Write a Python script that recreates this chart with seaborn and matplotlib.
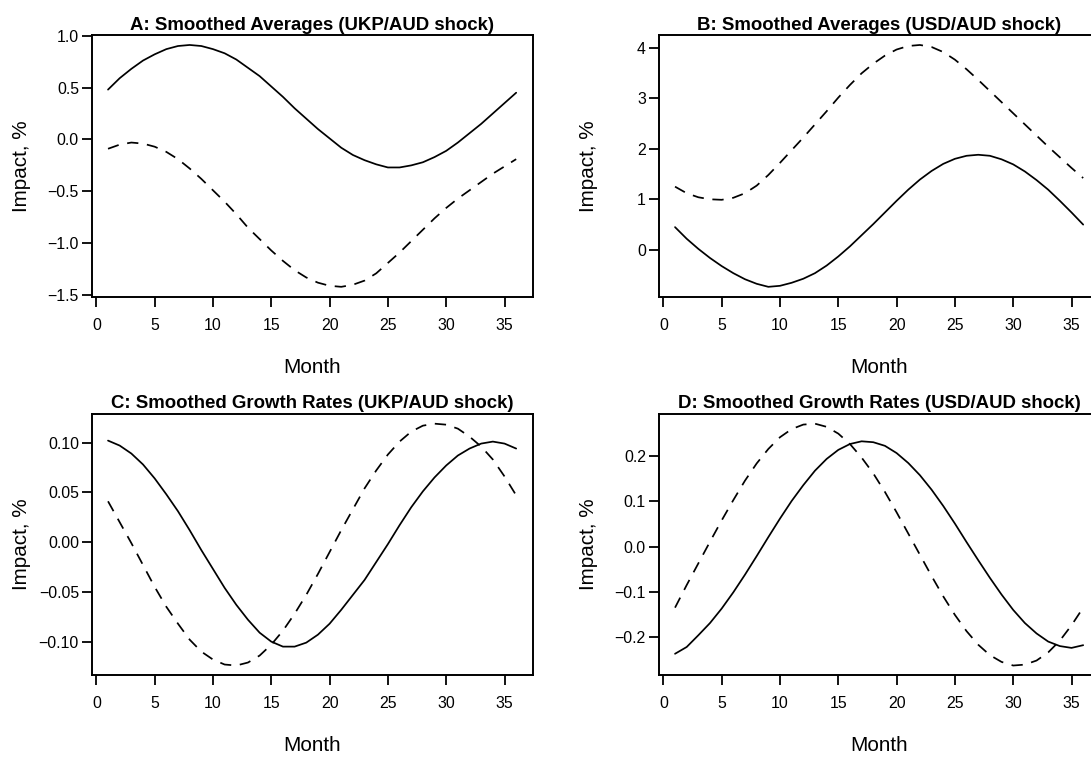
import numpy as np
import pandas as pd
import matplotlib
matplotlib.use("Agg")
import matplotlib.pyplot as plt
from matplotlib.ticker import FixedLocator, FuncFormatter
import seaborn as sns

months = list(range(1, 37))

a_solid = [0.48, 0.59, 0.68, 0.76, 0.82, 0.87, 0.90, 0.91, 0.90, 0.87,
           0.83, 0.77, 0.69, 0.61, 0.51, 0.41, 0.30, 0.20, 0.10, 0.01,
           -0.08, -0.15, -0.20, -0.24, -0.27, -0.27, -0.25, -0.22, -0.17, -0.11,
           -0.03, 0.06, 0.15, 0.25, 0.35, 0.45]
a_dashed = [-0.09, -0.05, -0.03, -0.04, -0.07, -0.12, -0.19, -0.28, -0.38, -0.49,
            -0.60, -0.72, -0.85, -0.96, -1.07, -1.17, -1.26, -1.33, -1.38, -1.41,
            -1.42, -1.40, -1.36, -1.29, -1.19, -1.09, -0.98, -0.87, -0.76, -0.66,
            -0.57, -0.49, -0.41, -0.33, -0.26, -0.19]

b_solid = [0.45, 0.22, 0.02, -0.16, -0.32, -0.46, -0.58, -0.67, -0.73, -0.71,
           -0.65, -0.57, -0.46, -0.31, -0.13, 0.07, 0.29, 0.51, 0.74, 0.97,
           1.19, 1.39, 1.56, 1.70, 1.80, 1.86, 1.88, 1.86, 1.79, 1.69,
           1.55, 1.38, 1.19, 0.97, 0.74, 0.50]
b_dashed = [1.25, 1.12, 1.04, 1.00, 0.99, 1.03, 1.12, 1.27, 1.48, 1.72,
            1.97, 2.22, 2.48, 2.74, 3.01, 3.26, 3.49, 3.68, 3.84, 3.96,
            4.03, 4.05, 4.01, 3.91, 3.76, 3.57, 3.36, 3.14, 2.92, 2.70,
            2.48, 2.26, 2.04, 1.83, 1.62, 1.42]

c_solid = [0.102, 0.097, 0.089, 0.078, 0.064, 0.048, 0.031, 0.012, -0.008, -0.027,
           -0.046, -0.063, -0.078, -0.091, -0.100, -0.105, -0.105, -0.101, -0.093, -0.082,
           -0.068, -0.053, -0.038, -0.020, -0.002, 0.017, 0.035, 0.051, 0.065, 0.077,
           0.087, 0.094, 0.099, 0.101, 0.099, 0.094]
c_dashed = [0.041, 0.020, -0.001, -0.023, -0.045, -0.065, -0.082, -0.098, -0.110, -0.118,
            -0.123, -0.124, -0.121, -0.114, -0.103, -0.089, -0.072, -0.053, -0.032, -0.010,
            0.012, 0.033, 0.054, 0.072, 0.088, 0.101, 0.111, 0.117, 0.119, 0.118,
            0.114, 0.106, 0.096, 0.083, 0.066, 0.047]

d_solid = [-0.237, -0.222, -0.196, -0.169, -0.137, -0.101, -0.062, -0.021, 0.021, 0.062,
           0.101, 0.136, 0.168, 0.194, 0.214, 0.227, 0.233, 0.231, 0.223, 0.207,
           0.185, 0.158, 0.126, 0.090, 0.051, 0.010, -0.030, -0.069, -0.106, -0.140,
           -0.169, -0.192, -0.210, -0.220, -0.224, -0.218]
d_dashed = [-0.135, -0.085, -0.037, 0.011, 0.058, 0.103, 0.146, 0.184, 0.216, 0.242,
            0.260, 0.270, 0.272, 0.265, 0.250, 0.227, 0.197, 0.162, 0.121, 0.076,
            0.029, -0.018, -0.065, -0.110, -0.151, -0.187, -0.217, -0.240, -0.255, -0.263,
            -0.261, -0.252, -0.234, -0.208, -0.174, -0.135]

titles = ["A: Smoothed Averages (UKP/AUD shock)",
          "B: Smoothed Averages (USD/AUD shock)",
          "C: Smoothed Growth Rates (UKP/AUD shock)",
          "D: Smoothed Growth Rates (USD/AUD shock)"]
x_ticks = [0, 5, 10, 15, 20, 25, 30, 35]
y_ticks_a = [-1.5, -1.0, -0.5, 0.0, 0.5, 1.0]
y_ticks_b = [0, 1, 2, 3, 4]
y_ticks_c = [-0.10, -0.05, 0.00, 0.05, 0.10]
y_ticks_d = [-0.2, -0.1, 0.0, 0.1, 0.2]
x_label = "Month"
y_label = "Impact, %"

sns.set_theme(style="ticks")
plt.rcParams["font.family"] = ["Liberation Sans", "DejaVu Sans"]
plt.rcParams["text.color"] = "black"
plt.rcParams["axes.labelcolor"] = "black"
plt.rcParams["xtick.color"] = "black"
plt.rcParams["ytick.color"] = "black"

W, H = 1091, 758
fig = plt.figure(figsize=(W / 100, H / 100), dpi=100)
fig.patch.set_facecolor("white")

box_w = 440.8
box_h = 261.2
lefts = [91.7, 658.7]
tops = [35.3, 414.0]

panels = [
    (a_solid, a_dashed, y_ticks_a, "{:.1f}"),
    (b_solid, b_dashed, y_ticks_b, "{:.0f}"),
    (c_solid, c_dashed, y_ticks_c, "{:.2f}"),
    (d_solid, d_dashed, y_ticks_d, "{:.1f}"),
]

lw_curve = 1.25
dash = (0, (6.5, 5.0))


def make_fmt(f):
    def _f(v, pos):
        s = f.format(v)
        if s.startswith("-"):
            s = "\u2212" + s[1:]
        return s
    return FuncFormatter(_f)


for i, (solid, dashed, yt, fmt) in enumerate(panels):
    row, col = divmod(i, 2)
    l = lefts[col]
    t = tops[row]
    ax = fig.add_axes([l / W, 1 - (t + box_h) / H, box_w / W, box_h / H])
    ax.set_facecolor("white")
    df = pd.DataFrame({"month": months, "solid": solid, "dashed": dashed})
    sns.lineplot(data=df, x="month", y="solid", ax=ax, color="black",
                 linewidth=lw_curve, linestyle="-")
    sns.lineplot(data=df, x="month", y="dashed", ax=ax, color="black",
                 linewidth=lw_curve, linestyle=dash)
    allv = np.array(solid + dashed)
    lo, hi = allv.min(), allv.max()
    pad = 0.04 * (hi - lo)
    ax.set_ylim(lo - pad, hi + pad)
    xpad = 0.04 * (max(months) - min(months))
    ax.set_xlim(min(months) - xpad, max(months) + xpad)

    ax.xaxis.set_major_locator(FixedLocator(x_ticks))
    ax.yaxis.set_major_locator(FixedLocator(yt))
    ax.yaxis.set_major_formatter(make_fmt(fmt))
    for sp in ax.spines.values():
        sp.set_visible(True)
        sp.set_linewidth(1.4)
        sp.set_color("black")
    ax.tick_params(axis="x", direction="out", length=7.2, width=1.3,
                   pad=8.0, labelsize=11.4, colors="black")
    ax.tick_params(axis="y", direction="out", length=7.2, width=1.3,
                   pad=2.0, labelsize=11.4, colors="black")
    ax.set_title(titles[i], fontsize=13.4, fontweight="bold", pad=4.0,
                 color="black")
    ax.set_xlabel(x_label, fontsize=14.9, va="top", color="black")
    ax.xaxis.set_label_coords(0.5, -61.0 / box_h)
    ax.set_ylabel(y_label, fontsize=14.9, va="center", color="black")
    ax.yaxis.set_label_coords(-70.0 / box_w, 0.5)

fig.savefig("out.png", dpi=100, facecolor="white")
